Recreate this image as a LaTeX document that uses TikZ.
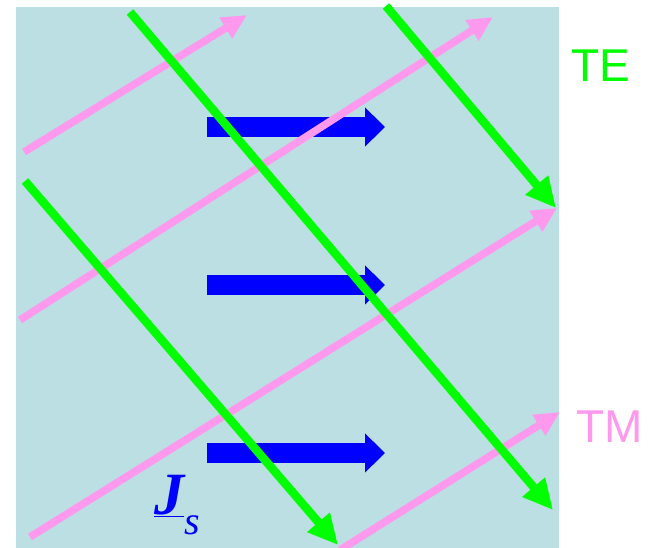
\documentclass[tikz,border=0pt]{standalone}
\usepackage{fontspec}
\setmainfont{Liberation Serif}
\newfontfamily\wavefont{Liberation Sans}
\usetikzlibrary{arrows.meta,positioning}
\definecolor{sheet}{RGB}{187,223,227}
\definecolor{tmpink}{RGB}{255,153,238}
\definecolor{tegreen}{RGB}{0,255,0}
\definecolor{jblue}{RGB}{0,0,255}

\begin{document}
\begin{tikzpicture}[x=1pt, y=-1pt,
    tewave/.style={draw=tegreen, line width=8.5pt, -{Triangle[length=30pt, width=28pt]}},
    tmwave/.style={draw=tmpink, line width=7.5pt, -{Triangle[length=25pt, width=23pt]}},
    current/.style={draw=jblue, line width=20pt, -{Triangle[length=20pt, width=38pt]}},
    wavelabel/.style={font=\wavefont\fontsize{46}{46}\selectfont, inner sep=0pt, anchor=base west}]

    % Background sheet
    \useasboundingbox (0,0) rectangle (650,548);
    \fill[sheet] (16,7) rectangle (559,548);

    % Surface current
    \coordinate (j1a) at (207,127); \coordinate (j1b) at (385,127);
    \coordinate (j2a) at (207,285); \coordinate (j2b) at (385,285);
    \coordinate (j3a) at (207,453); \coordinate (j3b) at (385,453);
    \draw[current] (j1a) -- (j1b);
    \draw[current] (j2a) -- (j2b);
    \draw[current] (j3a) -- (j3b);

    % TM waves
    \coordinate (tm1a) at (24,152);  \coordinate (tm1b) at (247,15);
    \coordinate (tm2a) at (20,320);  \coordinate (tm2b) at (493,17);
    \coordinate (tm3a) at (30,537);  \coordinate (tm3b) at (557,208);
    \coordinate (tm4a) at (340,550); \coordinate (tm4b) at (560,412);
    \draw[tmwave] (tm1a) -- (tm1b);
    \draw[tmwave] (tm2a) -- (tm2b);
    \draw[tmwave] (tm3a) -- (tm3b);
    \draw[tmwave] (tm4a) -- (tm4b);

    % TE waves
    \coordinate (te1a) at (130,12); \coordinate (te1b) at (553,510);
    \coordinate (te2a) at (386,6);  \coordinate (te2b) at (556,208);
    \coordinate (te3a) at (25,181); \coordinate (te3b) at (338,545);
    \draw[tewave] (te1a) -- (te1b);
    \draw[tewave] (te2a) -- (te2b);
    \draw[tewave] (te3a) -- (te3b);

    % Labels
    \node[wavelabel, text=tegreen] (te) at (571,82) {TE};
    \node[wavelabel, text=tmpink] (tm) at (576,442) {TM};
    \node[anchor=base west, inner sep=0pt, text=jblue] (js) at (154,514)
        {\fontsize{60}{60}\selectfont\bfseries\itshape\underline{J}\raisebox{-20pt}{\fontsize{40}{40}\selectfont\mdseries s}};

\end{tikzpicture}
\end{document}
